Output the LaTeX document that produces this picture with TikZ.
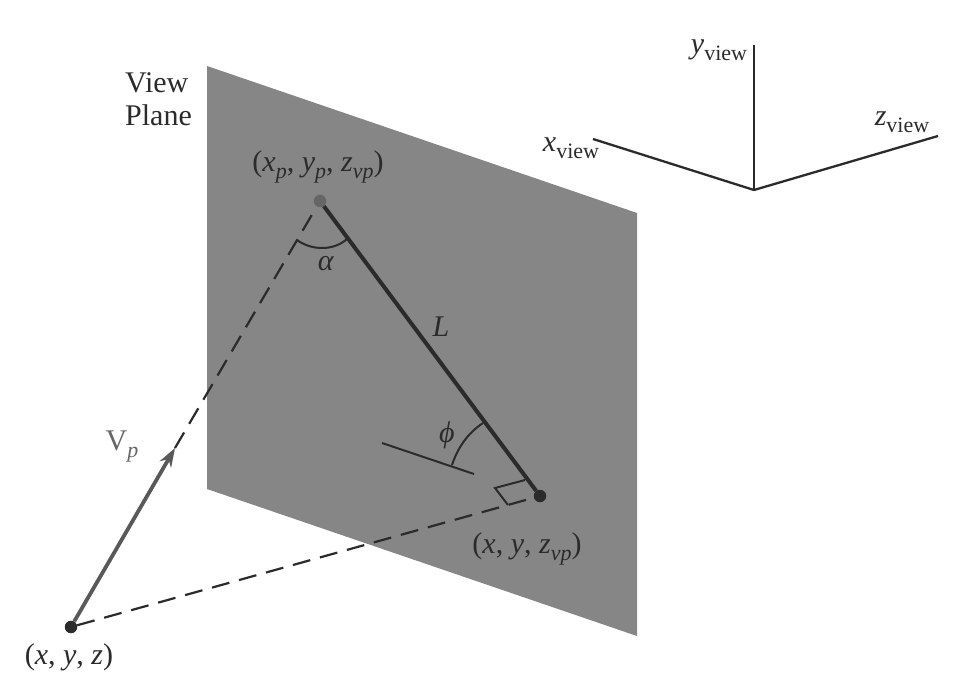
\documentclass[tikz,border=0pt]{standalone}
\usepackage{fontspec}
\setmainfont{Liberation Serif}
\usetikzlibrary{arrows.meta}
\definecolor{planegray}{HTML}{868686}
\definecolor{inkdark}{HTML}{2B2B2B}
\tikzset{
  lbl/.style={inner sep=0pt,text=inkdark,font=\fontsize{30}{33}\selectfont},
  pnt/.style={circle,fill=inkdark,inner sep=0pt,minimum size=12.5pt},
  axisline/.style={line width=2.3pt,draw=inkdark},
  thinline/.style={line width=2pt,draw=inkdark},
  dashline/.style={line width=2.2pt,draw=inkdark,dash pattern=on 18pt off 10pt}
}
\newcommand{\lowsub}[1]{\raisebox{-7pt}{\fontsize{22}{22}\selectfont #1}}
\begin{document}
\begin{tikzpicture}[x=1pt,y=-1pt]
  \useasboundingbox (0,0) rectangle (964,700);
  \fill[planegray] (207,66) -- (637,213) -- (637,636) -- (207,489) -- cycle;
  % points
  \node (viewpnt) at (320,201) [pnt,fill=black!60] {};
  \node (planepnt) at (540,496) [pnt] {};
  \node (worldpnt) at (71,627) [pnt] {};
  \coordinate (arrowend) at (175,448);
  % lines
  \draw[line width=3.8pt,draw=black!65,-{Stealth[length=19pt,width=13pt]}] (worldpnt) to (arrowend);
  \draw[dashline] (arrowend) to (viewpnt);
  \draw[dashline] (worldpnt) to (planepnt);
  \draw[line width=4pt,draw=inkdark] (viewpnt) to (planepnt);
  % angles
  \draw[thinline] (297,240) .. controls (312,251) and (335,251) .. (348,238);
  \draw[thinline] (452,465) .. controls (458,447) and (468,433) .. (483,423);
  \coordinate (normstart) at (382,443);
  \coordinate (normend) at (474,474);
  \draw[thinline] (normstart) to (normend);
  \draw[thinline] (525,480) -- (495,488) -- (508,505);
  % axes
  \coordinate (origin) at (754,190);
  \coordinate (ytop) at (754,45);
  \coordinate (xtop) at (593,139);
  \coordinate (ztop) at (938,136);
  \draw[axisline] (origin) to (ytop);
  \draw[axisline] (origin) to (xtop);
  \draw[axisline] (origin) to (ztop);
  % labels
  \node (viewlbl) at (125,83) [lbl,anchor=west] {View};
  \node (planelbl) at (125,115) [lbl,anchor=west] {Plane};
  \node (viewcoord) at (318,167) [lbl] {(\textit{x\lowsub{p}}, \textit{y\lowsub{p}}, \textit{z\lowsub{vp}})};
  \node (alphalbl) at (326,264) [lbl] {\textit{α}};
  \node (lenlbl) at (441,327) [lbl] {\textit{L}};
  \node (philbl) at (447,435) [lbl] {\textit{ϕ}};
  \node (planecoord) at (527,549) [lbl] {(\textit{x}, \textit{y}, \textit{z\lowsub{vp}})};
  \node (vplbl) at (122,447) [lbl,text=black!60] {V\lowsub{\textit{p}}};
  \node (worldcoord) at (69,657) [lbl] {(\textit{x}, \textit{y}, \textit{z})};
  \node (xlbl) at (571,148) [lbl] {\textit{x}\lowsub{view}};
  \node (ylbl) at (719,50) [lbl] {\textit{y}\lowsub{view}};
  \node (zlbl) at (902,122) [lbl] {\textit{z}\lowsub{view}};
\end{tikzpicture}
\end{document}
